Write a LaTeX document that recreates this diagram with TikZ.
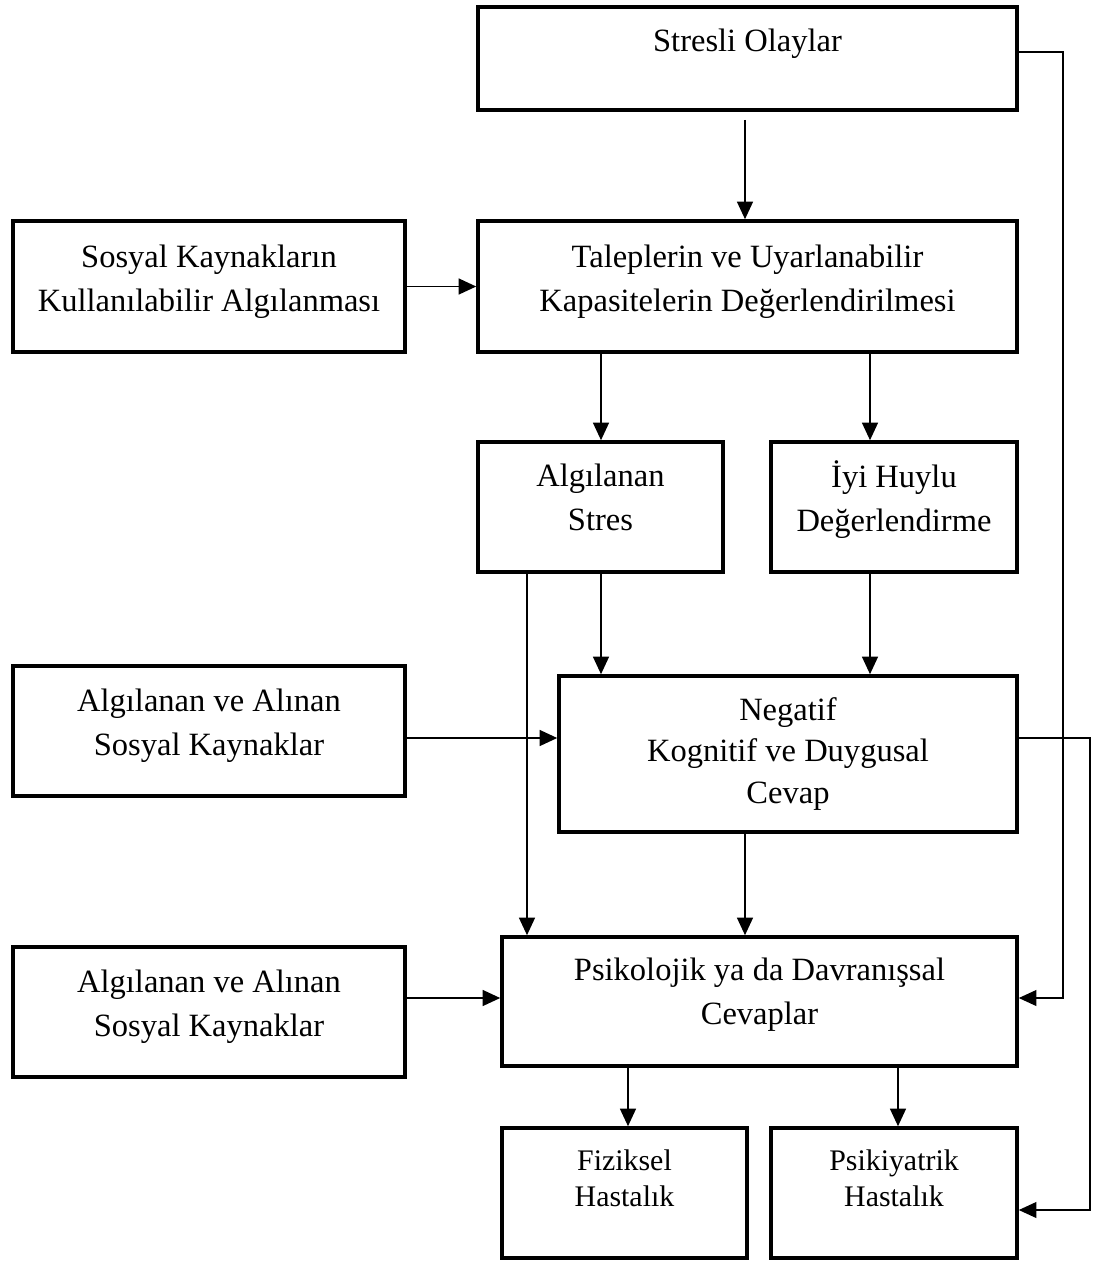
\documentclass[tikz,border=0pt]{standalone}
\usepackage{fontspec}
\setmainfont{Liberation Serif}
\usetikzlibrary{arrows.meta}

\tikzset{
  kutu/.style={draw, line width=2pt, inner sep=0pt},
  yazi/.style={align=center, inner sep=0pt, font=\fontsize{18.5}{25}\selectfont},
  kucukyazi/.style={align=center, inner sep=0pt, font=\fontsize{17}{20.5}\selectfont},
  ok/.style={line width=1.1pt, -{Triangle[length=10pt,width=9pt]}},
  hat/.style={line width=0.8pt, -{Triangle[length=10pt,width=9pt]}},
}

\begin{document}
\begin{tikzpicture}
    \useasboundingbox (0,0) rectangle (21.84,-25.22);
    % Boxes
    \node[kutu, minimum width=10.78cm, minimum height=2.06cm] (olay) at (14.95,-1.17) {};
    \node[kutu, minimum width=7.84cm, minimum height=2.62cm] (kaynak) at (4.18,-5.73) {};
    \node[kutu, minimum width=10.78cm, minimum height=2.62cm] (talep) at (14.95,-5.73) {};
    \node[kutu, minimum width=4.90cm, minimum height=2.60cm] (stres) at (12.01,-10.14) {};
    \node[kutu, minimum width=4.92cm, minimum height=2.60cm] (iyi) at (17.88,-10.14) {};
    \node[kutu, minimum width=7.84cm, minimum height=2.60cm] (alinan1) at (4.18,-14.62) {};
    \node[kutu, minimum width=9.16cm, minimum height=3.12cm] (negatif) at (15.76,-15.08) {};
    \node[kutu, minimum width=7.84cm, minimum height=2.60cm] (alinan2) at (4.18,-20.24) {};
    \node[kutu, minimum width=10.30cm, minimum height=2.58cm] (psiko) at (15.19,-20.03) {};
    \node[kutu, minimum width=4.90cm, minimum height=2.60cm] (fizik) at (12.49,-23.86) {};
    \node[kutu, minimum width=4.92cm, minimum height=2.60cm] (psikiy) at (17.88,-23.86) {};
    % Texts
    \node[yazi] (olay-t) at (14.95,-0.88) {Stresli Olaylar};
    \node[yazi] (kaynak-t) at (4.18,-5.63) {Sosyal Kaynakların\\Kullanılabilir Algılanması};
    \node[yazi] (talep-t) at (14.95,-5.63) {Taleplerin ve Uyarlanabilir\\Kapasitelerin Değerlendirilmesi};
    \node[yazi] (stres-t) at (12.01,-9.95) {Algılanan\\Stres};
    \node[yazi] (iyi-t) at (17.88,-10.00) {İyi Huylu\\Değerlendirme};
    \node[yazi] (alinan1-t) at (4.18,-14.52) {Algılanan ve Alınan\\Sosyal Kaynaklar};
    \node[yazi, font=\fontsize{18.5}{23.5}\selectfont] (negatif-t) at (15.76,-15.08) {Negatif\\Kognitif ve Duygusal\\Cevap};
    \node[yazi] (alinan2-t) at (4.18,-20.14) {Algılanan ve Alınan\\Sosyal Kaynaklar};
    \node[yazi] (psiko-t) at (15.19,-19.90) {Psikolojik ya da Davranışsal\\Cevaplar};
    \node[kucukyazi] (fizik-t) at (12.49,-23.56) {Fiziksel\\Hastalık};
    \node[kucukyazi] (psikiy-t) at (17.88,-23.56) {Psikiyatrik\\Hastalık};
    % Arrows
    \draw[ok, shorten <=0.16cm] (14.90,0 |- olay.south) -- (14.90,0 |- talep.north);
    \draw[ok] (kaynak.east) -- (talep.west);
    \draw[ok] (12.02,0 |- talep.south) -- (12.02,0 |- stres.north);
    \draw[ok] (17.40,0 |- talep.south) -- (17.40,0 |- iyi.north);
    \draw[ok] (12.02,0 |- stres.south) -- (12.02,0 |- negatif.north);
    \draw[ok] (17.40,0 |- iyi.south) -- (17.40,0 |- negatif.north);
    \draw[ok] (10.54,0 |- stres.south) -- (10.54,0 |- psiko.north);
    \draw[ok] (alinan1.east |- 0,-14.76) -- (negatif.west |- 0,-14.76);
    \draw[ok] (14.90,0 |- negatif.south) -- (14.90,0 |- psiko.north);
    \draw[ok] (alinan2.east |- 0,-19.96) -- (psiko.west |- 0,-19.96);
    \draw[ok] (12.56,0 |- psiko.south) -- (12.56,0 |- fizik.north);
    \draw[ok] (17.96,0 |- psiko.south) -- (17.96,0 |- psikiy.north);
    % Right side lines
    \draw[hat] (olay.east |- 0,-1.04) -- (21.26,-1.04) -- (21.26,-19.96) -- (psiko.east |- 0,-19.96);
    \draw[hat] (negatif.east |- 0,-14.76) -- (21.80,-14.76) -- (21.80,-24.20) -- (psikiy.east |- 0,-24.20);
\end{tikzpicture}
\end{document}
